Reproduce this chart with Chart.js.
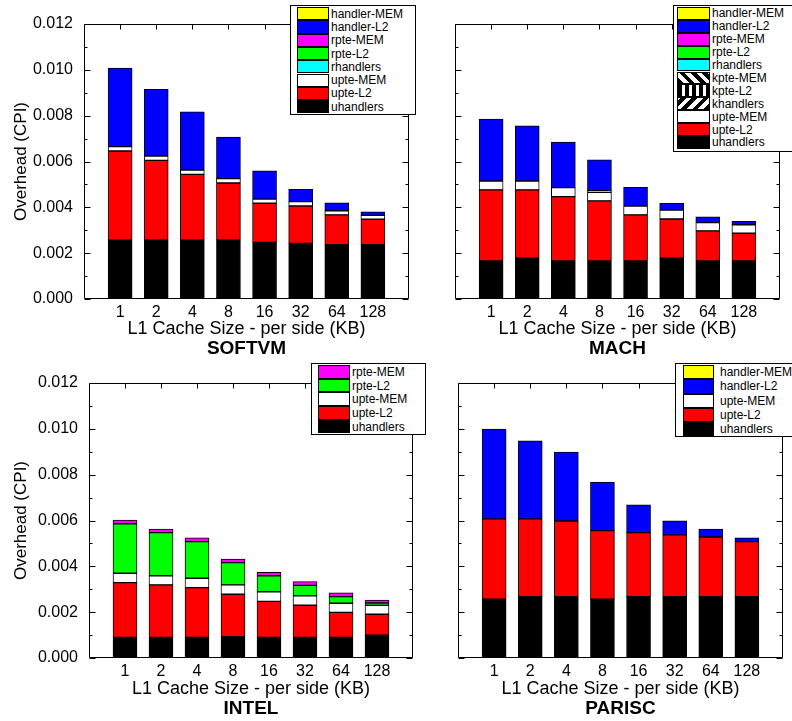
<!DOCTYPE html>
<html>
<head>
<meta charset="utf-8">
<script src="https://cdn.jsdelivr.net/npm/chart.js@4.4.0/dist/chart.umd.min.js"></script>
<style>
body{margin:0;background:#fff;width:792px;height:721px;overflow:hidden;position:relative;font-family:"Liberation Sans",Arial,sans-serif;}
canvas{position:absolute;}
.legend{position:absolute;background:#fff;border:1px solid #000;box-sizing:border-box;font-size:12px;color:#000;}
.legend .row{position:absolute;left:0;right:0;}
.legend .sw{position:absolute;top:0;bottom:0;border:1px solid #000;box-sizing:border-box;}
.legend .tx{position:absolute;white-space:nowrap;}
</style>
</head>
<body>
<canvas id="softvm" width="493" height="359" style="left:0;top:0"></canvas>
<canvas id="mach" width="435" height="359" style="left:400px;top:0"></canvas>
<canvas id="intel" width="502" height="359" style="left:0;top:360px"></canvas>
<canvas id="parisc" width="441" height="359" style="left:400px;top:360px"></canvas>
<div id="legSoftvm" class="legend"></div>
<div id="legMach" class="legend"></div>
<div id="legIntel" class="legend"></div>
<div id="legParisc" class="legend"></div>
<script>
//=============================
// DATA
//=============================

const sizes = ["1","2","4","8","16","32","64","128"];
const yMax = 0.012;
const yStep = 0.002;
const yMinor = 0.001;

// SOFTVM
const softvmUhandlers = [0.00257,0.00257,0.00257,0.00257,0.00247,0.00243,0.00237,0.00237];
const softvmUpteL2    = [0.00389,0.00348,0.00287,0.00249,0.00171,0.00163,0.00130,0.00111];
const softvmUpteMem   = [0.00019,0.00019,0.00019,0.00019,0.00018,0.00019,0.00018,0.00017];
const softvmHandlerL2 = [0.00343,0.00291,0.00254,0.00182,0.00123,0.00054,0.00035,0.00015];

// MACH
const machUhandlers = [0.00166,0.00178,0.00166,0.00166,0.00166,0.00178,0.00166,0.00166];
const machUpteL2    = [0.00310,0.00298,0.00281,0.00262,0.00201,0.00171,0.00131,0.00121];
const machUpteMem   = [0.00039,0.00039,0.00039,0.00038,0.00039,0.00039,0.00036,0.00037];
const machRhandlers = [0,0,0,0.00007,0,0,0,0];
const machHandlerL2 = [0.00270,0.00241,0.00199,0.00134,0.00081,0.00030,0.00026,0.00015];

// INTEL
const intelUhandlers = [0.00090,0.00090,0.00090,0.00093,0.00090,0.00090,0.00090,0.00100];
const intelUpteL2    = [0.00239,0.00229,0.00217,0.00185,0.00157,0.00140,0.00109,0.00091];
const intelUpteMem   = [0.00041,0.00040,0.00041,0.00041,0.00042,0.00041,0.00040,0.00039];
const intelRpteL2    = [0.00216,0.00188,0.00160,0.00097,0.00070,0.00046,0.00029,0.00010];
const intelRpteMem   = [0.00016,0.00016,0.00016,0.00016,0.00015,0.00016,0.00016,0.00013];

// PARISC
const pariscUhandlers = [0.00257,0.00268,0.00268,0.00257,0.00268,0.00268,0.00268,0.00268];
const pariscUpteL2    = [0.00350,0.00339,0.00330,0.00299,0.00279,0.00269,0.00260,0.00240];
const pariscHandlerL2 = [0.00392,0.00341,0.00301,0.00212,0.00121,0.00062,0.00035,0.00016];

//=============================
// STYLE
//=============================

Chart.defaults.font.family = '"Liberation Sans", Arial, Helvetica, sans-serif';

const colors = {
    "handler-MEM":"#ffff00",
    "handler-L2":"#0000ff",
    "rpte-MEM":"#ff00ff",
    "rpte-L2":"#00ff00",
    "rhandlers":"#00ffff",
    "kpte-MEM":"repeating-linear-gradient(45deg,#000 0 4px,#fff 4px 8px)",
    "kpte-L2":"repeating-linear-gradient(90deg,#000 0 4px,#fff 4px 7px)",
    "khandlers":"repeating-linear-gradient(-45deg,#000 0 4px,#fff 4px 8px)",
    "upte-MEM":"#ffffff",
    "upte-L2":"#ff0000",
    "uhandlers":"#000000"
};

const pad = a => [null, ...a.map(v => v || null), null];

//=============================
// FRAME + INWARD TICKS
//=============================

const frameTicks = {
    id:"frameTicks",
    afterDraw(chart){
        const {ctx, chartArea:a, scales:{x, y}} = chart;
        const L = Math.round(a.left) + 0.5, R = Math.round(a.right) - 0.5;
        const T = Math.round(a.top) + 0.5, B = Math.round(a.bottom) - 0.5;
        ctx.save();
        ctx.strokeStyle = "#000";
        ctx.lineWidth = 1;
        ctx.beginPath();
        ctx.rect(L, T, R - L, B - T);
        const n = Math.round(yMax / yMinor);
        const every = Math.round(yStep / yMinor);
        for(let k = 0; k <= n; k++){
            const py = Math.round(y.getPixelForValue(k * yMinor)) + 0.5;
            const len = k % every ? 3 : 6;
            ctx.moveTo(L, py); ctx.lineTo(L + len, py);
            ctx.moveTo(R, py); ctx.lineTo(R - len, py);
        }
        sizes.forEach((s, i) => {
            const px = Math.round(x.getPixelForValue(i + 1)) + 0.5;
            ctx.moveTo(px, T); ctx.lineTo(px, T + 5);
        });
        ctx.stroke();
        ctx.restore();
    }
};

//=============================
// PANEL
//=============================

function panel(id, title, series, showY, box){

    new Chart(document.getElementById(id),{
        type:"bar",
        data:{
            labels:["", ...sizes, ""],
            datasets:series.map(s => ({
                label:s[0],
                data:pad(s[1]),
                backgroundColor:colors[s[0]],
                borderColor:"#000",
                borderWidth:1,
                borderSkipped:false,
                barThickness:24
            }))
        },
        options:{
            responsive:false,
            animation:false,
            layout:{padding:{top:box.top, right:box.left, left:0, bottom:0.5}},
            plugins:{
                legend:{display:false},
                tooltip:{enabled:false},
                title:{
                    display:true,
                    fullSize:false,   // keeps the panel name centred under the plot
                    text:title,
                    position:"bottom",
                    color:"#000",
                    font:{size:19, weight:"bold", lineHeight:1},
                    padding:0
                }
            },
            scales:{
                x:{
                    stacked:true,
                    offset:false,
                    grid:{display:false, drawTicks:false},
                    border:{display:false},
                    ticks:{color:"#000", font:{size:16}, padding:4, maxRotation:0, autoSkip:false},
                    title:{display:true, text:"L1 Cache Size - per side (KB)", color:"#000", font:{size:18, lineHeight:1}, padding:{top:0, bottom:1}},
                    afterFit(s){ s.height = box.xh; }
                },
                y:{
                    stacked:true,
                    min:0,
                    max:yMax,
                    grid:{display:false, drawTicks:false},
                    border:{display:false},
                    ticks:{display:showY, stepSize:yStep, autoSkip:false, color:"#000", font:{size:16}, padding:11, callback:v => v.toFixed(3)},
                    title:{display:showY, text:"Overhead (CPI)", color:"#000", font:{size:17}, padding:{top:11, bottom:0}},
                    afterFit(s){ s.width = box.left; }
                }
            }
        },
        plugins:[frameTicks]
    });

}

//=============================
// LEGEND (html)
//=============================

function legend(id, names, b){
    const el = document.getElementById(id);
    el.style.left = b.x + "px";
    el.style.top = b.y + "px";
    el.style.width = b.w + "px";
    el.style.height = b.h + "px";
    el.innerHTML = names.map((n, i) => `
        <div class="row" style="top:${b.first + i * b.row}px;height:${b.row}px">
            <div class="sw" style="left:${b.sw}px;width:${b.swW}px;background:${colors[n]}"></div>
            <div class="tx" style="left:${b.tx}px;top:${b.row / 2 - 7}px;line-height:14px">${n}</div>
        </div>`).join("");
}

//=============================
// BUILD
//=============================

panel("softvm","SOFTVM",[
    ["uhandlers", softvmUhandlers],
    ["upte-L2", softvmUpteL2],
    ["upte-MEM", softvmUpteMem],
    ["handler-L2", softvmHandlerL2]
], true, {left:84, top:24, xh:40.5});

panel("mach","MACH",[
    ["uhandlers", machUhandlers],
    ["upte-L2", machUpteL2],
    ["upte-MEM", machUpteMem],
    ["rhandlers", machRhandlers],
    ["handler-L2", machHandlerL2]
], false, {left:55, top:24, xh:40.5});

panel("intel","INTEL",[
    ["uhandlers", intelUhandlers],
    ["upte-L2", intelUpteL2],
    ["upte-MEM", intelUpteMem],
    ["rpte-L2", intelRpteL2],
    ["rpte-MEM", intelRpteMem]
], true, {left:89, top:23, xh:41.5});

panel("parisc","PARISC",[
    ["uhandlers", pariscUhandlers],
    ["upte-L2", pariscUpteL2],
    ["handler-L2", pariscHandlerL2]
], false, {left:58, top:23, xh:41.5});

legend("legSoftvm",
    ["handler-MEM","handler-L2","rpte-MEM","rpte-L2","rhandlers","upte-MEM","upte-L2","uhandlers"],
    {x:290, y:5, w:126, h:110, first:1, row:13.3, sw:6, swW:32, tx:40});

legend("legMach",
    ["handler-MEM","handler-L2","rpte-MEM","rpte-L2","rhandlers","kpte-MEM","kpte-L2","khandlers","upte-MEM","upte-L2","uhandlers"],
    {x:673, y:5, w:130, h:147, first:1, row:12.9, sw:3, swW:33, tx:38});

legend("legIntel",
    ["rpte-MEM","rpte-L2","upte-MEM","upte-L2","uhandlers"],
    {x:311, y:363, w:115, h:72, first:1, row:13.7, sw:6, swW:32, tx:40});

legend("legParisc",
    ["handler-MEM","handler-L2","upte-MEM","upte-L2","uhandlers"],
    {x:675, y:363, w:130, h:74, first:1, row:14.3, sw:7, swW:31, tx:44});
</script>
</body>
</html>
